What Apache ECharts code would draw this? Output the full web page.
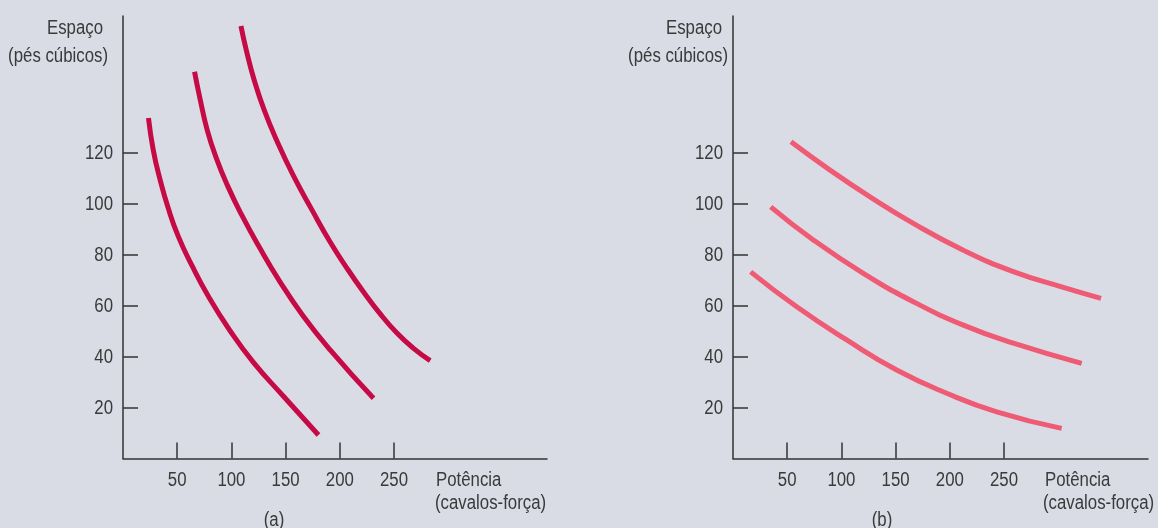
<!DOCTYPE html>
<html>
<head>
<meta charset="utf-8">
<script src="https://cdn.jsdelivr.net/npm/echarts@6/dist/echarts.min.js"></script>
<style>
html,body{margin:0;padding:0;background:#d9dce4;}
#c{width:1158px;height:528px;}
</style>
</head>
<body>
<div id="c"></div>
<script>
// ---- data (x = potência, cavalos-força; y = espaço, pés cúbicos) ----
const xTicks = [50, 100, 150, 200, 250];
const yTicks = [20, 40, 60, 80, 100, 120];

// Panel (a)
const a1 = [[23.5,133.5],[27.9,121.0],[34.3,109.2],[41.7,98.2],[50.9,87.2],[63.8,75.5],[78.6,63.7],[98.9,50.0],[120.1,37.8],[147.8,24.5],[180.3,9.2]];
const a2 = [[66.0,151.7],[71.2,140.8],[77.7,128.8],[86.0,117.9],[96.1,107.3],[109.0,95.9],[125.6,83.0],[145.0,69.2],[166.2,55.9],[191.1,42.6],[231.1,23.6]];
const a3 = [[108.8,169.6],[113.7,160.2],[121.0,148.4],[130.2,136.7],[142.0,124.5],[157.3,110.8],[174.3,97.5],[191.1,84.9],[206.5,74.7],[221.9,65.3],[237.3,56.7],[252.7,49.2],[268.0,43.2],[283.4,38.4]];

// Panel (b)
const b1 = [[16.3,73.2],[58.8,59.5],[104.9,46.5],[151,34.7],[197.1,25.6],[243.3,18.3],[303.2,11.8]];
const b2 = [[34.8,98.7],[74.1,85.7],[120.2,72.6],[166.3,61.5],[212.5,52.3],[258.6,45.2],[321.7,37.3]];
const b3 = [[53.5,124.2],[89.5,113.1],[126.4,102.6],[166.3,92.2],[212.5,81.7],[258.6,73.3],[304.7,67.1],[339.5,62.8]];

const yTitle = ['Espaço', '(pés cúbicos)'];
const xTitle = ['Potência', '(cavalos-força)'];
const panelLabels = ['(a)', '(b)'];

// ---- styling ----
const FONT = '"Liberation Sans", Arial, sans-serif';
const FS = 20;
const SX = 0.84; // narrow face
const TXT = '#3a3a3a';
const AX = '#333333';
const colA = '#c50a46';
const colB = '#ef5a74';

function xAxisCfg(gridIndex, max) {
  return {
    type: 'value', gridIndex, min: 0, max, interval: 50,
    axisLine: { show: true, onZero: false, lineStyle: { color: AX, width: 1.5 } },
    axisTick: { show: true, inside: true, length: 16, customValues: xTicks, lineStyle: { color: AX, width: 1.5 } },
    axisLabel: { show: false },
    splitLine: { show: false }
  };
}
function yAxisCfg(gridIndex, max) {
  return {
    type: 'value', gridIndex, min: 0, max, interval: 20,
    axisLine: { show: true, onZero: false, lineStyle: { color: AX, width: 1.5 } },
    axisTick: { show: true, inside: true, length: 15, customValues: yTicks, lineStyle: { color: AX, width: 1.5 } },
    axisLabel: { show: false },
    splitLine: { show: false }
  };
}
function lineSeries(data, xi, color) {
  return {
    type: 'line', xAxisIndex: xi, yAxisIndex: xi, data, smooth: 0.5,
    showSymbol: false, symbol: 'none', silent: true,
    lineStyle: { color, width: 5, cap: 'butt' }
  };
}
function txt(x, y, text, align, vAlign) {
  return { type: 'text', x, y, scaleX: SX, scaleY: 1, silent: true,
    style: { text: String(text), fill: TXT, fontSize: FS, fontFamily: FONT, align, verticalAlign: vAlign || 'middle' } };
}

const chart = echarts.init(document.getElementById('c'), null, { renderer: 'canvas' });
chart.setOption({
  backgroundColor: '#d9dce4',
  animation: false,
  grid: [
    { left: 123, top: 16, width: 424, height: 442.5 },
    { left: 733, top: 16, width: 415, height: 442.5 }
  ],
  xAxis: [xAxisCfg(0, 424 / 54.2 * 50), xAxisCfg(1, 415 / 54.2 * 50)],
  yAxis: [yAxisCfg(0, 442.5 / 51 * 20), yAxisCfg(1, 442.5 / 51 * 20)],
  series: [
    lineSeries(a1, 0, colA), lineSeries(a2, 0, colA), lineSeries(a3, 0, colA),
    lineSeries(b1, 1, colB), lineSeries(b2, 1, colB), lineSeries(b3, 1, colB)
  ]
});

// tick labels placed through the axes' own scales
const g = [];
[0, 1].forEach(function (gi) {
  xTicks.forEach(function (v) {
    const p = chart.convertToPixel({ gridIndex: gi }, [v, 0]);
    g.push(txt(p[0], p[1] + 22, v, 'center'));
  });
  yTicks.forEach(function (v) {
    const p = chart.convertToPixel({ gridIndex: gi }, [0, v]);
    g.push(txt(p[0] - 10, p[1] + 1, v, 'right'));
  });
});
g.push(
  txt(103, 28, yTitle[0], 'right'),
  txt(108, 56, yTitle[1], 'right'),
  txt(722, 28, yTitle[0], 'right'),
  txt(728, 56, yTitle[1], 'right'),
  txt(436, 480, xTitle[0], 'left'),
  txt(435, 503, xTitle[1], 'left'),
  txt(1045, 480, xTitle[0], 'left'),
  txt(1043, 503, xTitle[1], 'left'),
  txt(274, 520, panelLabels[0], 'center'),
  txt(882, 520, panelLabels[1], 'center')
);
chart.setOption({ graphic: g });
</script>
</body>
</html>
